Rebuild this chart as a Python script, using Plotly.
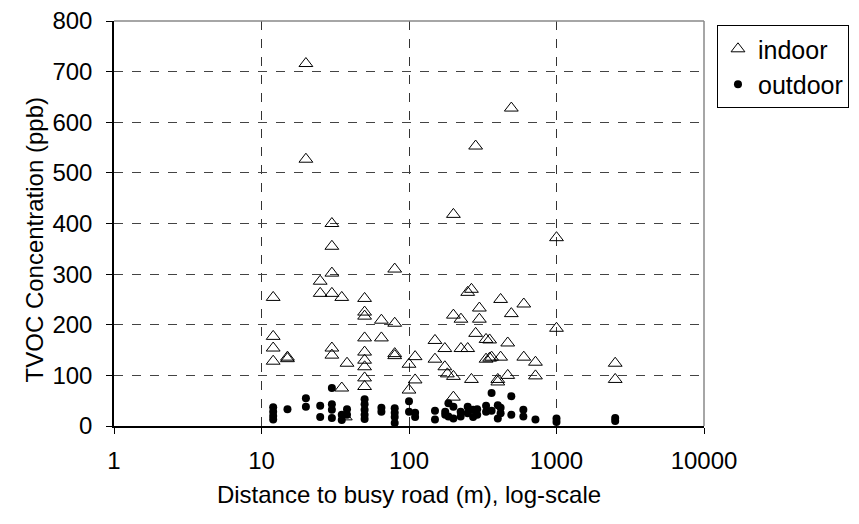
import plotly.graph_objects as go

indoor_x = [12, 12, 12, 12,
            15, 15,
            20, 20,
            25, 25,
            30, 30, 30, 30, 30, 30,
            35, 35, 37,
            38,
            50, 50, 50, 50, 50, 50, 50, 50, 50,
            65, 65,
            80, 80, 80, 80,
            100, 100,
            110, 110,
            150, 150,
            175, 175,
            182,
            200, 200, 200, 200,
            225, 225,
            250, 250,
            265, 265,
            283, 283,
            300, 300,
            333, 333,
            352, 352,
            363,
            400, 400,
            418, 418,
            467, 467,
            494, 494,
            600, 600,
            720, 720,
            1000, 1000,
            2500, 2500]
indoor_y = [254, 177, 154, 128,
            136, 133,
            716, 527,
            286, 262,
            400, 355, 302, 262, 154, 140,
            254, 75, 18,
            124,
            252, 225, 217, 174, 146, 130, 117, 95, 78,
            209, 174,
            310, 203, 143, 139,
            122, 71,
            137, 91,
            169, 132,
            153, 117,
            103,
            418, 219, 98, 57,
            211, 153,
            264, 153,
            270, 92,
            553, 183,
            233, 211,
            171, 132,
            170, 134,
            136,
            92, 87,
            250, 136,
            164, 100,
            628, 222,
            241, 136,
            126, 99,
            372, 193,
            124, 92]

outdoor_x = [12, 12, 12, 12,
             15,
             20, 20,
             25, 25,
             30, 30, 30, 30,
             35, 35,
             38, 38,
             50, 50, 50, 50, 50,
             65, 65,
             80, 80, 80, 80,
             100, 100,
             110, 110,
             150, 150,
             176, 176,
             185, 185,
             200, 200,
             224, 224,
             250, 250,
             272, 272,
             290, 290,
             333, 333,
             363, 363,
             400, 400,
             418, 418,
             494, 494,
             596, 596,
             720,
             1000, 1000,
             2500, 2500]
outdoor_y = [37, 28, 20, 13,
             33,
             55, 38,
             40, 18,
             75, 43, 32, 16,
             22, 12,
             33, 22,
             53, 43, 32, 22, 14,
             36, 28,
             35, 26, 18, 6,
             49, 28,
             26, 18,
             30, 13,
             28, 22,
             45, 19,
             38, 15,
             19, 28,
             38, 25,
             32, 18,
             22, 33,
             40, 28,
             65, 30,
             41, 15,
             25, 36,
             59, 22,
             32, 19,
             13,
             15, 8,
             16, 10]

x_tickvals = [1, 10, 100, 1000, 10000]
x_ticktext = ["1", "10", "100", "1000", "10000"]
y_tickvals = [0, 100, 200, 300, 400, 500, 600, 700, 800]

font = "Liberation Sans, Arial, sans-serif"
fs = 24

fig = go.Figure()
fig.add_trace(go.Scatter(
    x=indoor_x, y=indoor_y, mode="markers", name="indoor",
    marker=dict(symbol="triangle-up-open", size=12, color="black",
                line=dict(width=1, color="black")),
))
fig.add_trace(go.Scatter(
    x=outdoor_x, y=outdoor_y, mode="markers", name="outdoor",
    marker=dict(symbol="circle", size=8, color="black"),
))

fig.update_layout(
    width=859, height=524,
    margin=dict(l=114, r=155, t=21, b=98, autoexpand=False),
    paper_bgcolor="white", plot_bgcolor="white",
    font=dict(family=font, size=fs, color="black"),
    showlegend=True,
    legend=dict(x=1.022, y=0.99, xanchor="left", yanchor="top",
                bordercolor="black", borderwidth=1, bgcolor="white",
                font=dict(size=25), itemwidth=30,
                tracegroupgap=0),
    xaxis=dict(
        type="log", range=[0, 4],
        tickvals=x_tickvals, ticktext=x_ticktext,
        showgrid=True, gridcolor="#333", griddash="dash", gridwidth=1,
        showline=True, linecolor="black", linewidth=1.5, mirror=False,
        ticks="outside", ticklen=6, tickcolor="black",
        ticklabelstandoff=6,
        zeroline=False,
        title=dict(text="Distance to busy road (m), log-scale",
                   font=dict(size=fs), standoff=14),
        tickfont=dict(size=fs),
    ),
    yaxis=dict(
        range=[0, 800],
        tickvals=y_tickvals,
        showgrid=True, gridcolor="#444", griddash="dash", gridwidth=1,
        showline=True, linecolor="black", linewidth=1.5,
        ticks="outside", ticklen=6, tickcolor="black",
        ticklabelstandoff=9,
        zeroline=False,
        tickfont=dict(size=fs),
    ),
    annotations=[dict(
        text="TVOC Concentration (ppb)", textangle=-90,
        xref="paper", yref="paper", x=-0.135, y=0.459,
        xanchor="center", yanchor="middle", showarrow=False,
        font=dict(size=fs),
    )],
)

fig.add_shape(type="line", xref="paper", yref="paper", x0=1, x1=1, y0=0, y1=1,
              line=dict(color="#888", width=1.5))
fig.add_shape(type="line", xref="paper", yref="paper", x0=0, x1=1, y0=1, y1=1,
              line=dict(color="#888", width=1.5))

fig.write_html("out.html")
